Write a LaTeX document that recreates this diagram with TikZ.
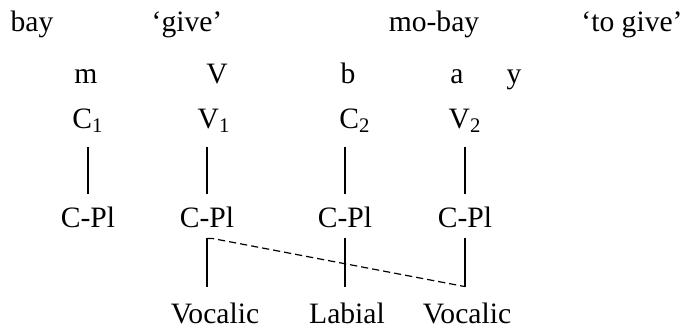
\documentclass[tikz,border=0pt]{standalone}
\usepackage{fontspec}
\setmainfont{Liberation Serif}
\usepackage{tikz}

\begin{document}
\begin{tikzpicture}[x=0.5pt,y=-0.5pt,font=\fontsize{14.8}{17}\selectfont]
  \tikzset{lbl/.style={inner sep=0pt,text height=10pt,text depth=0pt,anchor=base},
    stem/.style={line width=0.6pt,shorten <=#1},
    gap/.style={dash pattern=on 3.6pt off 2pt,line width=0.6pt}}
  \useasboundingbox (0,0) rectangle (686,327);
  % glosses
  \node[lbl] (w1) at (32,31) {bay};
  \node[lbl] (g1) at (187,31) {`give'};
  \node[lbl] (w2) at (434,31) {mo-bay};
  \node[lbl] (g2) at (632,31) {`to give'};
  % segments
  \node[lbl] (sm) at (86,83) {m};
  \node[lbl] (sv) at (217,83) {V};
  \node[lbl] (sb) at (348,83) {b};
  \node[lbl] (sa) at (457,83) {a};
  \node[lbl] (sy) at (514,83) {y};
  % skeleton
  \node[lbl] (c1) at (88,128) {C\textsubscript{1}};
  \node[lbl] (v1) at (214,128) {V\textsubscript{1}};
  \node[lbl] (c2) at (355,128) {C\textsubscript{2}};
  \node[lbl] (v2) at (465,128) {V\textsubscript{2}};
  % place nodes
  \node[lbl] (cp1) at (88,227) {C-Pl};
  \node[lbl] (cp2) at (207,227) {C-Pl};
  \node[lbl] (cp3) at (345,227) {C-Pl};
  \node[lbl] (cp4) at (465,227) {C-Pl};
  % features
  \node[lbl] (f1) at (215,323) {Vocalic};
  \node[lbl] (f2) at (347,323) {Labial};
  \node[lbl] (f3) at (467,323) {Vocalic};
  \foreach \a/\b in {c1/cp1,v1/cp2,c2/cp3,v2/cp4} {
    \draw[stem=9.5pt,shorten >=6.5pt] (\b |- \a.south) -- (\b.north);
  }
  \foreach \a/\b in {cp2/f1,cp3/f2,cp4/f3} {
    \draw[stem=5.5pt,shorten >=8pt] (\a.south) -- (\a.south |- \b.north);
  }
  % spreading of the vocalic feature
  \draw[gap] ([yshift=-5.5pt]cp2.south) -- ++(2.5pt,0) -- ([yshift=8pt]cp4.south |- f3.north);
\end{tikzpicture}
\end{document}
